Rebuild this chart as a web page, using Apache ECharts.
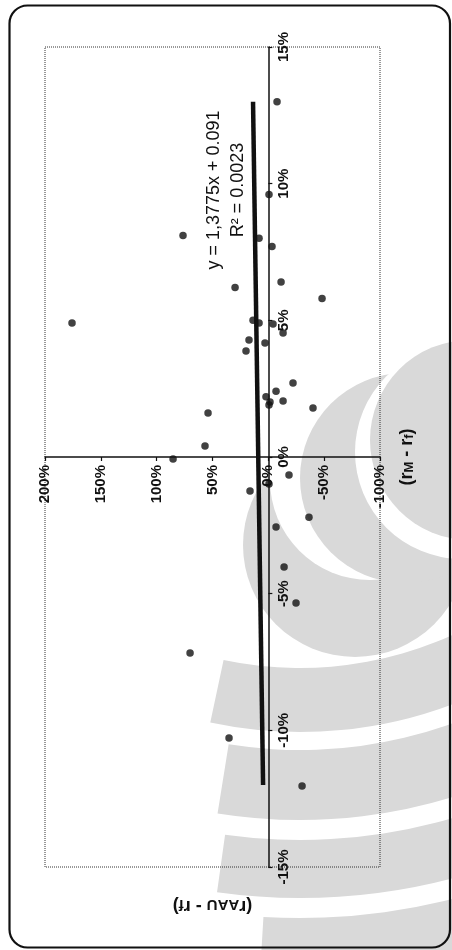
<!DOCTYPE html>
<html>
<head>
<meta charset="utf-8">
<script src="https://cdn.jsdelivr.net/npm/echarts@6/dist/echarts.min.js"></script>
<style>
html,body{margin:0;padding:0;background:#fff;}
#chart{width:452px;height:950px;}
</style>
</head>
<body>
<div id="chart"></div>
<script>
// Excess market return (rM - rf), in %
const marketExcess = [13.0, 9.6, 8.0, 8.1, 7.7, 6.2, 6.4, 5.8, 4.9, 5.0, 4.9, 4.87, 4.54, 4.28, 4.17, 3.88,
  2.71, 2.41, 2.20, 2.01, 1.90, 2.05, 1.79, 1.61, 0.40, -0.07, -0.66, -1.24, -0.99, -2.20, -2.56, -4.02,
  -5.34, -7.17, -10.28, -12.04];
// Excess stock return (rAAU - rf), in %
const aauExcess = [-7.8, -0.6, 8.3, 76.4, -3.3, 29.8, -11.4, -48.1, 175.8, 13.7, 8.3, -4.2, -13.2, 17.3, 3.0, 20.0,
  -22.1, -6.9, 2.1, -1.5, -0.6, -13.2, -40.0, 54.0, 56.7, 85.3, -18.5, 16.4, -0.6, -36.4, -6.9, -14.1,
  -24.8, 70.1, 35.2, -30.2];
// Trend line end points as drawn
const trendMarket = [-12.0, 13.0];
const trendAau = [4.7, 13.7];
// Tick labels
const aauTicks = [-100, -50, 0, 50, 100, 150, 200];
const marketTicks = [-15, -10, -5, 0, 5, 10, 15];
const equationText = 'y = 1,3775x + 0.091';
const r2Text = 'R\u00b2 = 0.0023';

const FONT = 'Liberation Sans, Arial, sans-serif';
const WM = '#d9d9d9';

// grid box
const G = {left: 45, right: 72, top: 47, bottom: 83};
const W = 452, H = 950;
const gridW = W - G.left - G.right, gridH = H - G.top - G.bottom;
const aauMin = aauTicks[0], aauMax = aauTicks[aauTicks.length - 1];
const mMin = marketTicks[0], mMax = marketTicks[marketTicks.length - 1];
// shift each axis from the grid edge onto the other axis' zero
const xAxisOffset = -gridH * (0 - mMin) / (mMax - mMin);
const yAxisOffset = -gridW * (0 - aauMin) / (aauMax - aauMin);

const chart = echarts.init(document.getElementById('chart'), null, {renderer: 'canvas'});

const scatterData = aauExcess.map((v, i) => [v, marketExcess[i]]);
const trendData = trendAau.map((v, i) => [v, trendMarket[i]]);

function wm(type, shape, fill, z2) {
  return {type: type, shape: shape, style: {fill: fill}, z: -10, z2: z2, silent: true};
}
const watermark = [
  wm('sector', {cx: 300, cy: 300, r0: 368, r: 432, startAngle: -0.4, endAngle: 1.78}, WM, 1),
  wm('sector', {cx: 300, cy: 300, r0: 450, r: 520, startAngle: -0.4, endAngle: 1.73}, WM, 1),
  wm('sector', {cx: 300, cy: 300, r0: 540, r: 598, startAngle: -0.4, endAngle: 1.71}, WM, 1),
  wm('sector', {cx: 300, cy: 300, r0: 618, r: 700, startAngle: -0.4, endAngle: 1.63}, WM, 1),
  wm('circle', {cx: 355, cy: 545, r: 112}, WM, 2),
  wm('circle', {cx: 370, cy: 480, r: 100}, '#ffffff', 3),
  wm('circle', {cx: 405, cy: 478, r: 105}, WM, 4),
  wm('circle', {cx: 462, cy: 452, r: 107}, '#ffffff', 5),
  wm('circle', {cx: 470, cy: 440, r: 100}, WM, 6)
];

function nameRich(subSize) {
  return {
    b: {fontSize: 18, fontWeight: 'bold', fontFamily: FONT, color: '#111'},
    s: {fontSize: subSize, fontWeight: 'bold', fontFamily: FONT, color: '#111', verticalAlign: 'bottom'}
  };
}

const option = {
  backgroundColor: '#ffffff',
  animation: false,
  textStyle: {fontFamily: FONT},
  grid: {
    left: G.left, right: G.right, top: G.top, bottom: G.bottom,
    show: true, borderColor: '#333', borderWidth: 1, borderType: 'dotted',
    containLabel: false, outerBoundsMode: 'none'
  },
  xAxis: {
    type: 'value', position: 'bottom', offset: xAxisOffset,
    min: aauMin, max: aauMax, interval: aauTicks[1] - aauTicks[0],
    inverse: true,
    axisLine: {show: true, onZero: false, lineStyle: {color: '#111', width: 1.5}},
    axisTick: {show: true, length: 4, lineStyle: {color: '#111', width: 1.2}},
    splitLine: {show: false},
    axisLabel: {
      rotate: 90, margin: 8, fontSize: 15, fontWeight: 'bold', color: '#111', fontFamily: FONT,
      formatter: v => v + '%'
    },
    name: '({b|r}{s|AAU}{b| - r}{s|f}{b|)}',
    nameLocation: 'middle', nameRotate: 180, nameGap: 440,
    nameTextStyle: {fontFamily: FONT, color: '#111', fontSize: 18, fontWeight: 'bold', rich: nameRich(15)}
  },
  yAxis: {
    type: 'value', position: 'right', offset: yAxisOffset,
    min: mMin, max: mMax, interval: marketTicks[1] - marketTicks[0],
    axisLine: {show: true, onZero: false, lineStyle: {color: '#111', width: 1.5}},
    axisTick: {show: true, length: 4, lineStyle: {color: '#111', width: 1.2}},
    splitLine: {show: false},
    axisLabel: {
      rotate: 90, margin: 8, fontSize: 15, fontWeight: 'bold', color: '#111', fontFamily: FONT,
      formatter: v => v + '%'
    },
    name: '({b|r}{s|M}{b| - r}{s|f}{b|)}',
    nameLocation: 'middle', nameRotate: 90, nameGap: 130,
    nameTextStyle: {fontFamily: FONT, color: '#111', fontSize: 18, fontWeight: 'bold', rich: nameRich(13)}
  },
  graphic: watermark.concat([
    {type: 'rect', shape: {x: 9.5, y: 5.5, width: 440.5, height: 942, r: 18},
      style: {fill: 'transparent', stroke: '#111', lineWidth: 2.2}, z: 20, silent: true},
    {type: 'text', x: 214, y: 190, rotation: Math.PI / 2,
      style: {text: equationText, fontSize: 18, fontFamily: FONT, fill: '#111', align: 'center', verticalAlign: 'middle'}, z: 20},
    {type: 'text', x: 238, y: 190, rotation: Math.PI / 2,
      style: {text: r2Text, fontSize: 18, fontFamily: FONT, fill: '#111', align: 'center', verticalAlign: 'middle'}, z: 20}
  ]),
  series: [
    {
      type: 'line', data: trendData, symbol: 'none', silent: true,
      lineStyle: {color: '#111', width: 4.5}, z: 3
    },
    {
      type: 'scatter', data: scatterData, symbol: 'circle', symbolSize: 7.5,
      itemStyle: {color: '#111'}, z: 4
    }
  ]
};
chart.setOption(option);
</script>
</body>
</html>
